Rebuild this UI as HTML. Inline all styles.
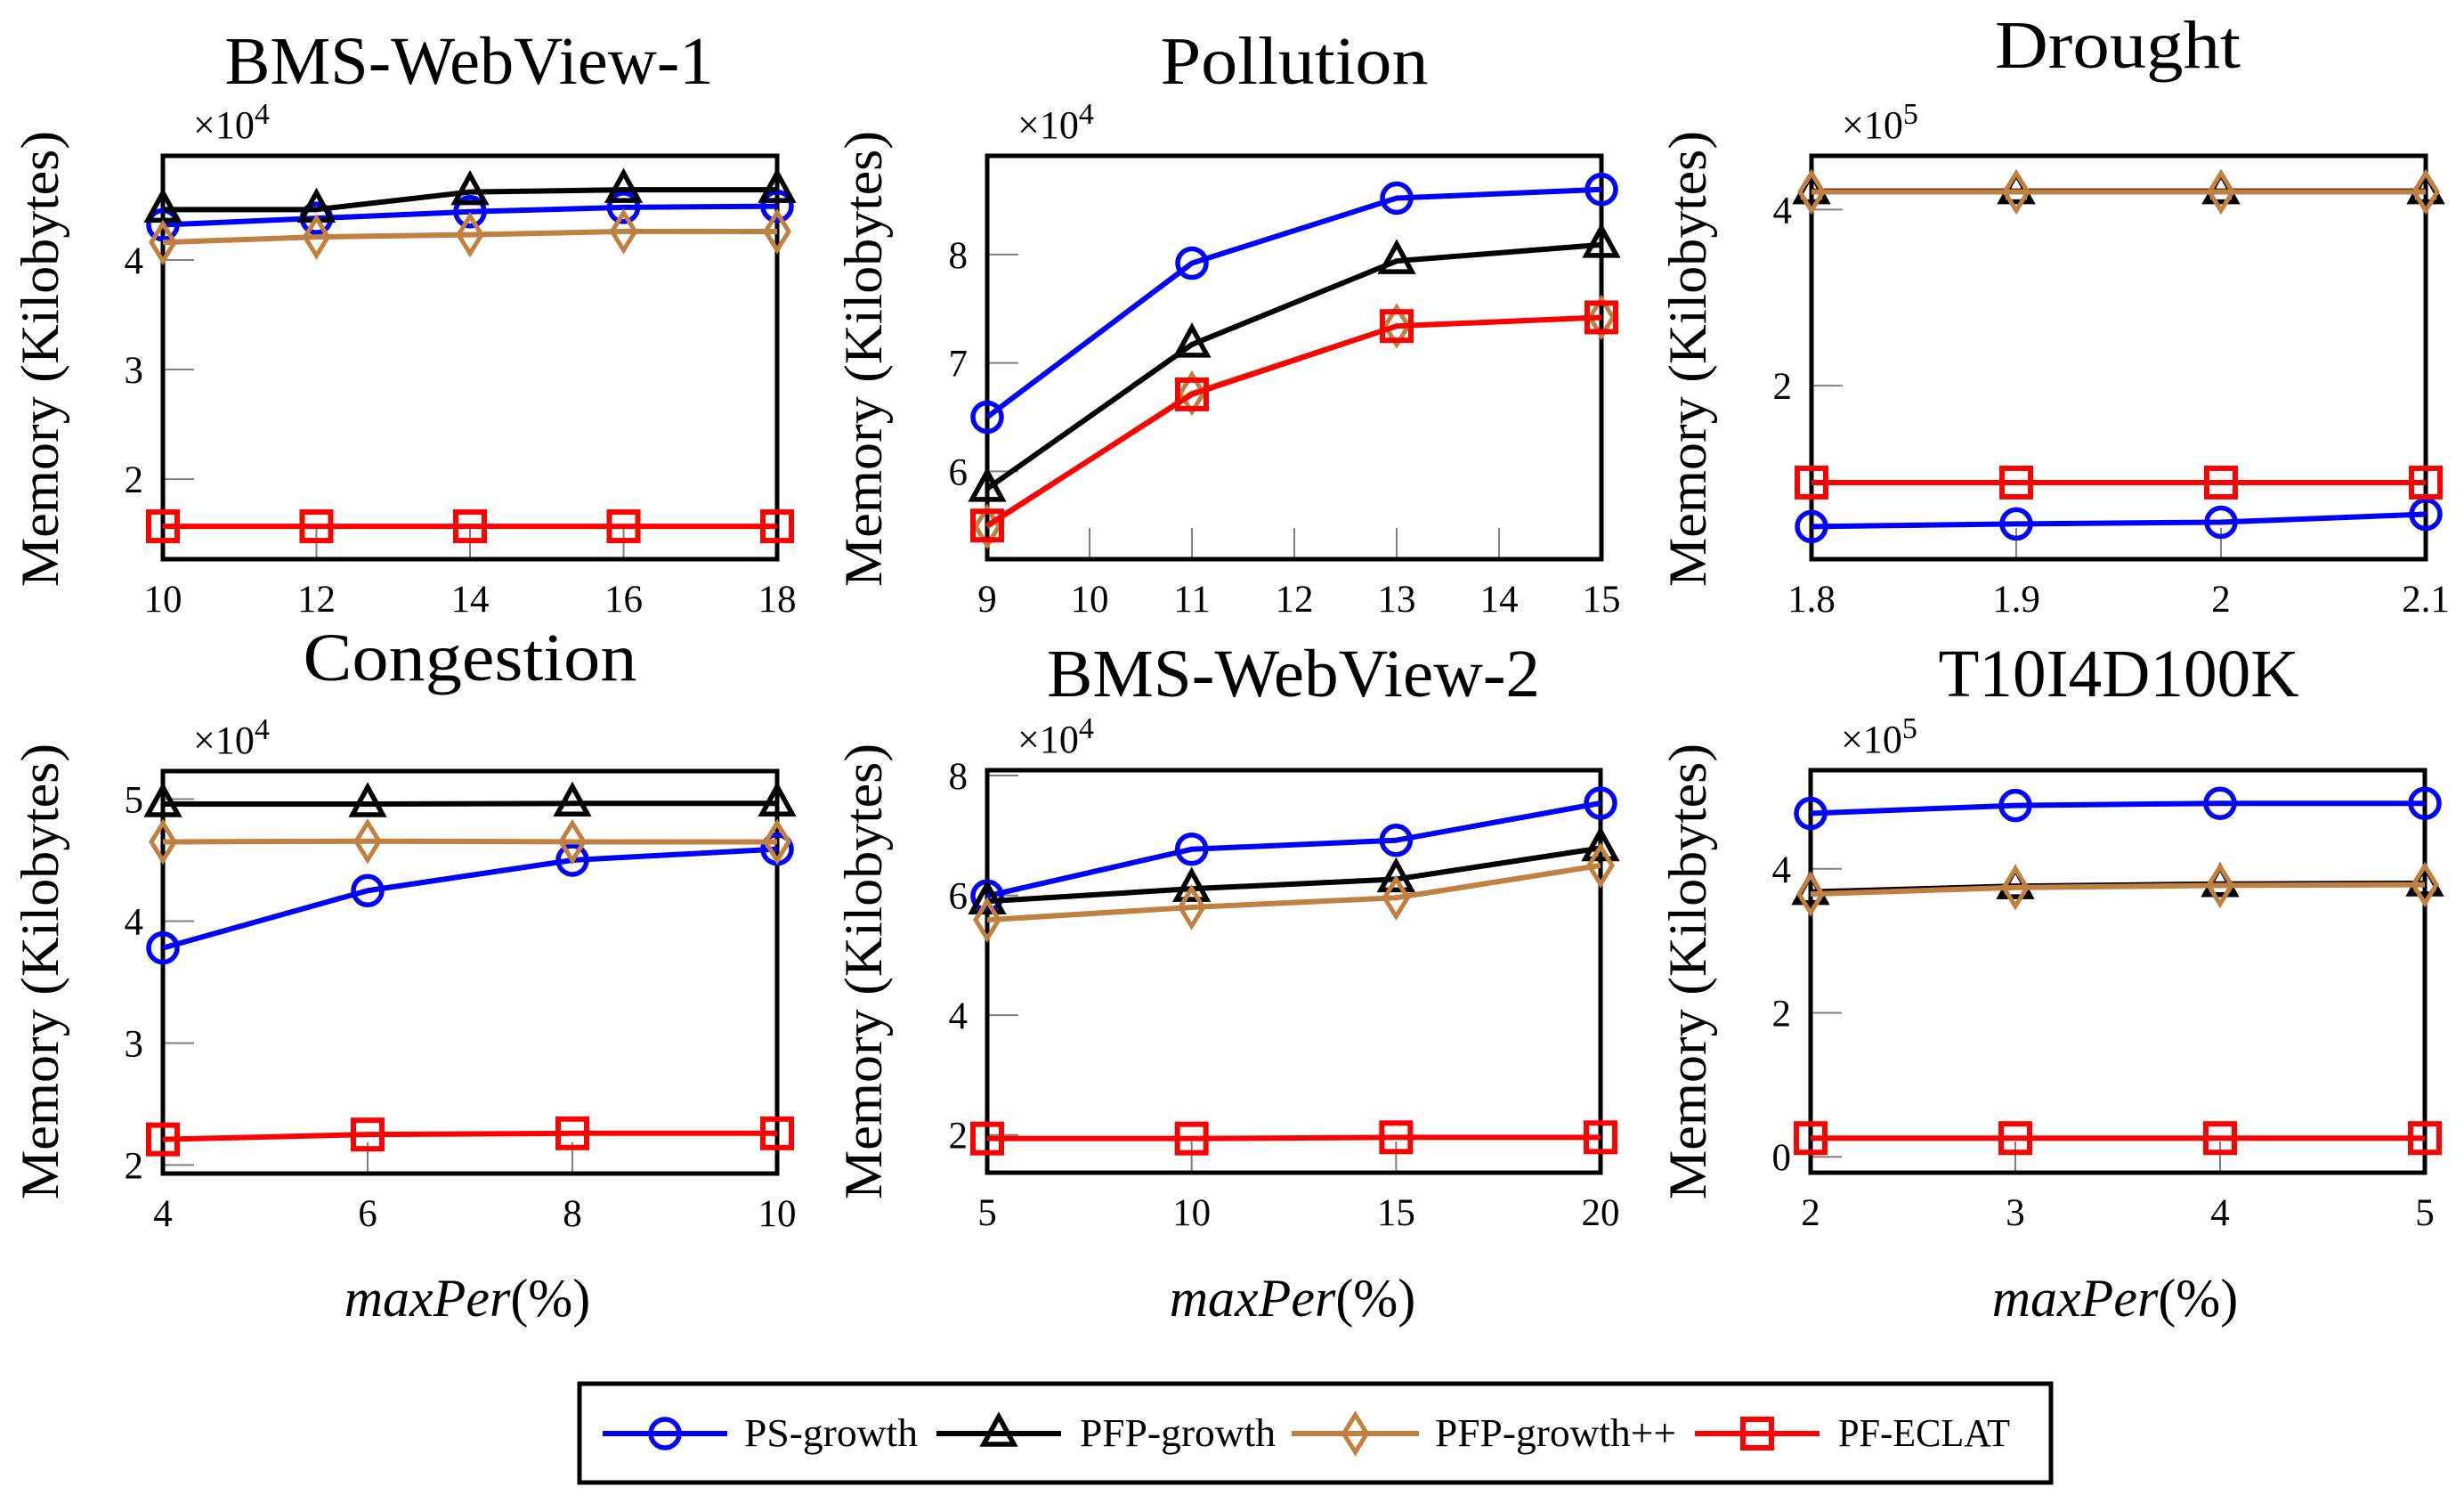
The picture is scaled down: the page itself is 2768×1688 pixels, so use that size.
<!DOCTYPE html>
<html><head><meta charset="utf-8"><style>
html,body{margin:0;padding:0;background:#fff;}
svg{display:block;}
svg text{font-family:"Liberation Serif","DejaVu Serif",serif;}
</style></head><body>
<svg id="chart" width="2768" height="1688" viewBox="0 0 2768 1688" xmlns="http://www.w3.org/2000/svg" font-family="Liberation Serif, serif">
<g id="panels"></g>
<g id="legend"></g>
</svg>
<script>
// ---- data arrays ----
const p1X = [10, 12, 14, 16, 18];
const p1PS = [4.32, 4.38, 4.44, 4.48, 4.49];
const p1PFP = [4.46, 4.46, 4.62, 4.64, 4.64];
const p1PFPpp = [4.16, 4.21, 4.23, 4.26, 4.26];
const p1ECLAT = [1.57, 1.57, 1.57, 1.57, 1.57];
const p1XTicks = [10, 12, 14, 16, 18];
const p1YTicks = [2, 3, 4];

const p2X = [9, 11, 13, 15];
const p2PS = [6.50, 7.92, 8.52, 8.60];
const p2PFP = [5.84, 7.17, 7.94, 8.09];
const p2PFPpp = [5.49, 6.72, 7.34, 7.42];
const p2ECLAT = [5.50, 6.71, 7.34, 7.42];
const p2XTicks = [9, 10, 11, 12, 13, 14, 15];
const p2YTicks = [6, 7, 8];

const p3X = [1.8, 1.9, 2.0, 2.1];
const p3PS = [0.40, 0.43, 0.45, 0.54];
const p3PFP = [4.21, 4.21, 4.21, 4.21];
const p3PFPpp = [4.20, 4.20, 4.20, 4.20];
const p3ECLAT = [0.90, 0.90, 0.90, 0.90];
const p3XTicks = [1.8, 1.9, 2, 2.1];
const p3YTicks = [2, 4];

const p4X = [4, 6, 8, 10];
const p4PS = [3.78, 4.25, 4.50, 4.59];
const p4PFP = [4.96, 4.96, 4.965, 4.965];
const p4PFPpp = [4.65, 4.655, 4.65, 4.65];
const p4ECLAT = [2.21, 2.25, 2.26, 2.26];
const p4XTicks = [4, 6, 8, 10];
const p4YTicks = [2, 3, 4, 5];

const p5X = [5, 10, 15, 20];
const p5PS = [5.99, 6.77, 6.92, 7.54];
const p5PFP = [5.90, 6.11, 6.27, 6.79];
const p5PFPpp = [5.59, 5.80, 5.96, 6.50];
const p5ECLAT = [1.94, 1.94, 1.96, 1.96];
const p5XTicks = [5, 10, 15, 20];
const p5YTicks = [2, 4, 6, 8];

const p6X = [2, 3, 4, 5];
const p6PS = [4.77, 4.88, 4.91, 4.91];
const p6PFP = [3.68, 3.76, 3.79, 3.80];
const p6PFPpp = [3.65, 3.74, 3.77, 3.78];
const p6ECLAT = [0.26, 0.26, 0.26, 0.26];
const p6XTicks = [2, 3, 4, 5];
const p6YTicks = [0, 2, 4];

const seriesNames = ["PS-growth", "PFP-growth", "PFP-growth++", "PF-ECLAT"];

// ---- layout ----
const NS = "http://www.w3.org/2000/svg";
const COLORS = ["#0000ff", "#000000", "#bf8040", "#ff0000"];
const MARKERS = ["circle", "triangle", "diamond", "square"];
const FONT = '"Liberation Serif", serif';

const panels = [
  {title:"BMS-WebView-1", tx:527, ty:94, tw:549, exp:"4", L:183, R:873, T:175, B:628, xd:[10,18], yd:[1.27,4.95], x:p1X, s:[p1PS,p1PFP,p1PFPpp,p1ECLAT], xt:p1XTicks, yt:p1YTicks, ylx:47, yly:403, xlabel:false},
  {title:"Pollution", tx:1454, ty:94, tw:301, exp:"4", L:1109, R:1799, T:175, B:628, xd:[9,15], yd:[5.19,8.91], x:p2X, s:[p2PS,p2PFP,p2PFPpp,p2ECLAT], xt:p2XTicks, yt:p2YTicks, ylx:972, yly:403, xlabel:false},
  {title:"Drought", tx:2379, ty:76, tw:276, exp:"5", L:2035, R:2725, T:175, B:628, xd:[1.8,2.1], yd:[0.03,4.61], x:p3X, s:[p3PS,p3PFP,p3PFPpp,p3ECLAT], xt:p3XTicks, yt:p3YTicks, ylx:1898, yly:403, xlabel:false},
  {title:"Congestion", tx:528, ty:764, tw:375, exp:"4", L:183, R:873, T:866, B:1318, xd:[4,10], yd:[1.93,5.23], x:p4X, s:[p4PS,p4PFP,p4PFPpp,p4ECLAT], xt:p4XTicks, yt:p4YTicks, ylx:47, yly:1091, xlabel:true, xlx:525},
  {title:"BMS-WebView-2", tx:1453, ty:782, tw:554, exp:"4", L:1109, R:1798, T:865, B:1317, xd:[5,20], yd:[1.37,8.09], x:p5X, s:[p5PS,p5PFP,p5PFPpp,p5ECLAT], xt:p5XTicks, yt:p5YTicks, ylx:972, yly:1091, xlabel:true, xlx:1452},
  {title:"T10I4D100K", tx:2380, ty:782, tw:405, exp:"5", L:2034, R:2724, T:865, B:1317, xd:[2,5], yd:[-0.22,5.37], x:p6X, s:[p6PS,p6PFP,p6PFPpp,p6ECLAT], xt:p6XTicks, yt:p6YTicks, ylx:1898, yly:1091, xlabel:true, xlx:2376}
];

function mk(tag, attrs, parent){
  const e = document.createElementNS(NS, tag);
  for (const k in attrs) e.setAttribute(k, attrs[k]);
  if (tag === "text") e.setAttribute("font-family", FONT);
  if (parent) parent.appendChild(e);
  return e;
}
function marker(g, type, cx, cy, color){
  let m;
  if (type === "circle") m = mk("circle", {cx:cx, cy:cy, r:16, fill:"none", stroke:color, "stroke-width":5.5}, g);
  else if (type === "triangle") m = mk("polygon", {points:`${cx},${cy-19} ${cx-17},${cy+12} ${cx+17},${cy+12}`, fill:"none", stroke:color, "stroke-width":5.5}, g);
  else if (type === "diamond") m = mk("polygon", {points:`${cx},${cy-21} ${cx+13},${cy} ${cx},${cy+21} ${cx-13},${cy}`, fill:"none", stroke:color, "stroke-width":5}, g);
  else m = mk("rect", {x:cx-16, y:cy-16, width:32, height:32, fill:"none", stroke:color, "stroke-width":6}, g);
  return m;
}

const root = document.getElementById("panels");
panels.forEach((p, pi) => {
  const g = mk("g", {}, root);
  
  
  const xs = v => p.L + (v - p.xd[0]) / (p.xd[1] - p.xd[0]) * (p.R - p.L);
  const ys = v => p.B - (v - p.yd[0]) / (p.yd[1] - p.yd[0]) * (p.B - p.T);

  const t = mk("text", {x:p.tx, y:p.ty, "text-anchor":"middle", "font-size":76, textLength:p.tw, lengthAdjust:"spacingAndGlyphs"}, g);
  t.textContent = p.title;
  
  

  const yl = mk("text", {x:0, y:0, transform:`translate(${p.ylx+18},${p.yly}) rotate(-90)`, "text-anchor":"middle", "font-size":60, textLength:512, lengthAdjust:"spacingAndGlyphs"}, g);
  yl.textContent = "Memory (Kilobytes)";
  
  

  const ex = mk("text", {x:p.L+34, y:p.T-20, "font-size":44}, g);
  ex.textContent = "×10";
  
  
  const ts = mk("tspan", {dy:-16, "font-size":34}, ex);
  ts.textContent = p.exp;

  p.yt.forEach(v => {
    const y = ys(v);
    const tk = mk("line", {x1:p.L, x2:p.L+35, y1:y, y2:y, stroke:"#808080", "stroke-width":2}, g);
    
    
    const lb = mk("text", {x:p.L-22, y:y+15, "text-anchor":"end", "font-size":43}, g);
    lb.textContent = v;
    
    
  });
  p.xt.forEach(v => {
    const x = xs(v);
    const tk = mk("line", {x1:x, x2:x, y1:p.B, y2:p.B-35, stroke:"#808080", "stroke-width":2}, g);
    
    
    const lb = mk("text", {x:x, y:p.B+59, "text-anchor":"middle", "font-size":43}, g);
    lb.textContent = v;
    
    
  });

  const fr = mk("rect", {x:p.L, y:p.T, width:p.R-p.L, height:p.B-p.T, fill:"none", stroke:"#000", "stroke-width":5}, g);
  
  

  p.s.forEach((vals, si) => {
    const sg = mk("g", {}, g);
    
    
    const pts = vals.map((v, i) => xs(p.x[i]) + "," + ys(v)).join(" ");
    const ln = mk("polyline", {points:pts, fill:"none", stroke:COLORS[si], "stroke-width":6, "stroke-linejoin":"round"}, sg);
    
    
    vals.forEach((v, i) => {
      const m = marker(sg, MARKERS[si], xs(p.x[i]), ys(v), COLORS[si]);
      
      
    });
  });

  if (p.xlabel) {
    const xl = mk("text", {x:p.xlx, y:1478, "text-anchor":"middle", "font-size":60}, g);
    
    
    const a = mk("tspan", {"font-style":"italic"}, xl); a.textContent = "maxPer";
    const b = mk("tspan", {}, xl); b.textContent = "(%)";
  }
});

const lg = document.getElementById("legend");
const box = mk("rect", {x:651, y:1554, width:1653, height:111, fill:"#fff", stroke:"#000", "stroke-width":5}, lg);


const legLine = [[677,817,836,195],[1052,1192,1213,220],[1451,1594,1612,271],[1904,2044,2065,193]];
seriesNames.forEach((nm, i) => {
  const eg = mk("g", {}, lg);
  
  
  const [a, b, tx, tw] = legLine[i];
  mk("line", {x1:a, x2:b, y1:1610, y2:1610, stroke:COLORS[i], "stroke-width":6}, eg);
  marker(eg, MARKERS[i], (a+b)/2, 1610, COLORS[i]);
  const t = mk("text", {x:tx, y:1624, "font-size":44, textLength:tw, lengthAdjust:"spacingAndGlyphs"}, eg);
  t.textContent = nm;
});
</script>
</body></html>
